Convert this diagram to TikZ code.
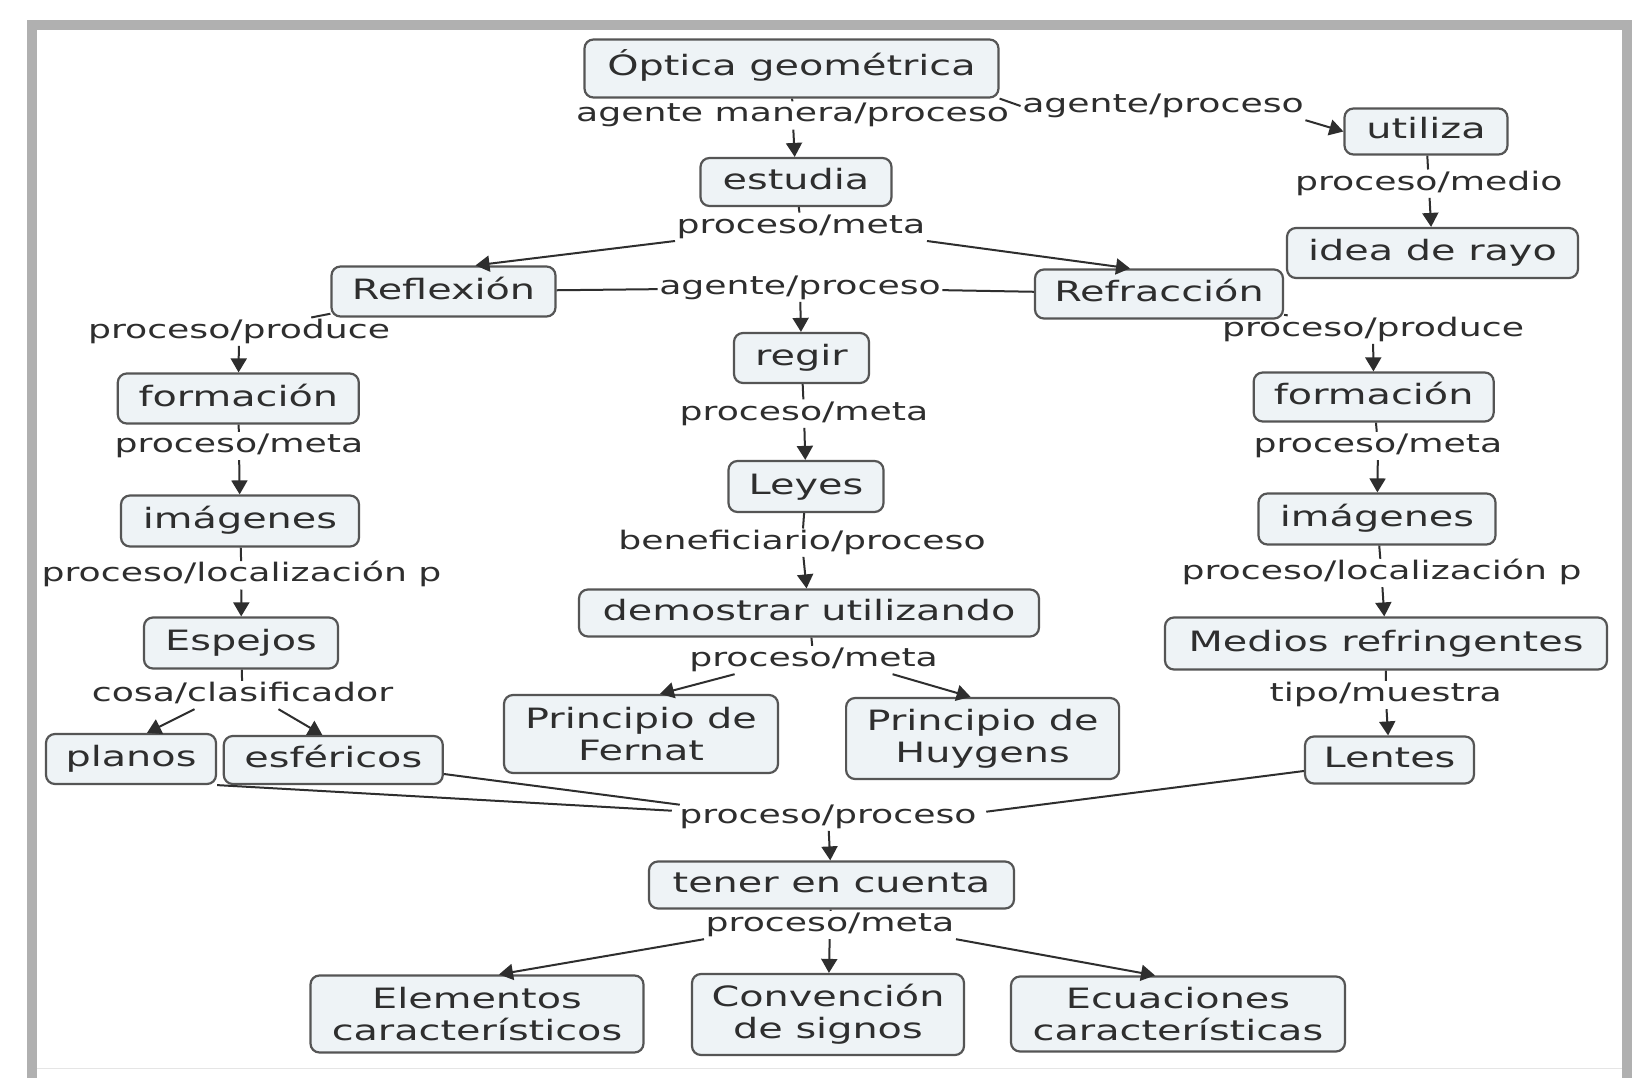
\documentclass[tikz,border=0pt]{standalone}
\usepackage{fontspec}
\setmainfont{DejaVu Sans}[FakeStretch=1.42]
\usetikzlibrary{arrows.meta,calc}
\definecolor{nodefill}{HTML}{EEF3F6}
\definecolor{nodeline}{HTML}{555555}
\definecolor{txt}{HTML}{2E2E2E}
\definecolor{framegray}{HTML}{B0B0B0}
\begin{document}
\begin{tikzpicture}[x=1pt,y=-1pt,
  concept/.style={draw=nodeline, line width=2.2pt, fill=nodefill, rounded corners=9pt,
    text=txt, font=\fontsize{28}{32}\selectfont, inner sep=0pt, align=center},
  one/.style={text height=21pt, text depth=6pt},
  lab/.style={text=txt, font=\fontsize{25.5}{28}\selectfont, inner sep=1.5pt,
    text height=19pt, text depth=6pt},
  link/.style={draw=txt, line width=2pt},
  arr/.style={link, -{Triangle[length=14pt,width=16pt]}},
]
\useasboundingbox (0,0) rectangle (1646,1078);
\fill[white] (0,0) rectangle (1646,1078);
% frame
\fill[framegray] (27,20) rectangle (1632,30);
\fill[framegray] (27,20) rectangle (37,1078);
\fill[framegray] (1622,20) rectangle (1632,1078);
\draw[gray!20, line width=1pt] (37,1068) -- (1622,1068);

% concepts
\node[concept, one, minimum width=414, minimum height=58] (optica) at (791.5,68.5) {Óptica geométrica};
\node[concept, one, minimum width=191, minimum height=48] (estudia) at (796,182) {estudia};
\node[concept, one, minimum width=163, minimum height=46] (utiliza) at (1426,131.5) {utiliza};
\node[concept, one, minimum width=291, minimum height=50] (idea) at (1432.5,253) {idea de rayo};
\node[concept, one, minimum width=224, minimum height=50] (reflexion) at (443.5,291.5) {Reflexión};
\node[concept, one, minimum width=248, minimum height=49] (refraccion) at (1159,294) {Refracción};
\node[concept, one, minimum width=135, minimum height=50] (regir) at (801.5,358) {regir};
\node[concept, one, minimum width=241, minimum height=50] (formL) at (238.3,398.5) {formación};
\node[concept, one, minimum width=240, minimum height=49] (formR) at (1373.7,397) {formación};
\node[concept, one, minimum width=155, minimum height=51] (leyes) at (806,486.5) {Leyes};
\node[concept, one, minimum width=238, minimum height=51] (imgL) at (240,521) {imágenes};
\node[concept, one, minimum width=237, minimum height=51] (imgR) at (1377,519) {imágenes};
\node[concept, one, minimum width=460, minimum height=47] (demostrar) at (809,613) {demostrar utilizando};
\node[concept, one, minimum width=194, minimum height=51] (espejos) at (241,643) {Espejos};
\node[concept, one, minimum width=442, minimum height=52] (medios) at (1386,643.5) {Medios refringentes};
\node[concept, minimum width=274, minimum height=78] (fernat) at (641,734) {Principio de\\Fernat};
\node[concept, minimum width=273, minimum height=81] (huygens) at (982.6,738.5) {Principio de\\Huygens};
\node[concept, one, minimum width=170, minimum height=50] (planos) at (131,759) {planos};
\node[concept, one, minimum width=219, minimum height=48] (esfericos) at (333.3,760) {esféricos};
\node[concept, one, minimum width=169, minimum height=47] (lentes) at (1389.5,760) {Lentes};
\node[concept, one, minimum width=365, minimum height=47] (tener) at (831.5,885) {tener en cuenta};
\node[concept, minimum width=333, minimum height=77] (elementos) at (477,1014) {Elementos\\característicos};
\node[concept, minimum width=272, minimum height=81] (convencion) at (828,1014.5) {Convención\\de signos};
\node[concept, minimum width=334, minimum height=75] (ecuaciones) at (1178,1014) {Ecuaciones\\características};

% link labels
\node[lab] (l1) at (792.6,115.5) {agente manera/proceso};
\node[lab] (l2) at (1163,106) {agente/proceso};
\node[lab] (l3) at (1428.8,183.7) {proceso/medio};
\node[lab] (l4) at (801,226.8) {proceso/meta};
\node[lab] (l5) at (800,287.6) {agente/proceso};
\node[lab] (l6) at (239,331.7) {proceso/produce};
\node[lab] (l7) at (1373,329.6) {proceso/produce};
\node[lab] (l8) at (804,413.6) {proceso/meta};
\node[lab] (l9) at (239,446) {proceso/meta};
\node[lab] (l10) at (1378,446) {proceso/meta};
\node[lab] (l11) at (802,542.7) {beneficiario/proceso};
\node[lab] (l12) at (241.5,575.3) {proceso/localización p};
\node[lab] (l13) at (1381.5,573) {proceso/localización p};
\node[lab] (l14) at (813.6,660) {proceso/meta};
\node[lab] (l15) at (242.5,695) {cosa/clasificador};
\node[lab] (l16) at (1385.7,695) {tipo/muestra};
\node[lab] (l17) at (828,816.7) {proceso/proceso};
\node[lab] (l18) at (830,925) {proceso/meta};

% connectors
\draw[link] (optica) -- (l1);
\draw[arr] (l1) -- (estudia);
\draw[link] (optica.south east) -- (l2.west);
\draw[arr] (l2.south east) -- (utiliza.west);
\draw[link] (utiliza) -- (l3);
\draw[arr] (l3) -- (idea);
\draw[link] (estudia) -- (l4);
\draw[arr] (l4.south west) -- ($(reflexion.north)+(32,0)$);
\draw[arr] (l4.south east) -- ($(refraccion.north)+(-29,0)$);
\draw[link] (reflexion) -- (l5);
\draw[link] (l5) -- (refraccion);
\draw[arr] (l5) -- (regir);
\draw[link] (reflexion) -- (l6);
\draw[arr] (l6) -- (formL);
\draw[link] (refraccion) -- (l7);
\draw[arr] (l7) -- (formR);
\draw[link] (formL) -- (l9);
\draw[arr] (l9) -- (imgL);
\draw[link] (formR) -- (l10);
\draw[arr] (l10) -- (imgR);
\draw[link] (imgL) -- (l12);
\draw[arr] (l12) -- (espejos);
\draw[link] (imgR) -- (l13);
\draw[arr] (l13) -- (medios);
\draw[link] (espejos) -- (l15);
\draw[arr] ($(l15.south)+(-48,0)$) -- ($(planos.north)+(16,0)$);
\draw[arr] ($(l15.south)+(36,0)$) -- ($(esfericos.north)+(-11,0)$);
\draw[link] (medios) -- (l16);
\draw[arr] (l16) -- (lentes);
\draw[link] (regir) -- (l8);
\draw[arr] (l8) -- (leyes);
\draw[link] (leyes) -- (l11);
\draw[arr] (l11) -- (demostrar);
\draw[link] (demostrar) -- (l14);
\draw[arr] ($(l14.south)+(-79,0)$) -- ($(fernat.north)+(19,0)$);
\draw[arr] ($(l14.south)+(79,0)$) -- ($(huygens.north)+(-12,0)$);
\draw[link] (planos.south east) -- ($(l17.west)+(-6,-6)$);
\draw[link] ($(esfericos.east)+(0,14)$) -- ($(l17.west)+(2,-12)$);
\draw[link] ($(lentes.west)+(0,11)$) -- ($(l17.east)+(8,-5)$);
\draw[arr] (l17) -- (tener);
\draw[link] (tener) -- (l18);
\draw[arr] (l18.south west) -- ($(elementos.north)+(22,0)$);
\draw[arr] (l18) -- (convencion);
\draw[arr] (l18.south east) -- ($(ecuaciones.north)+(-23,0)$);
\end{tikzpicture}
\end{document}
